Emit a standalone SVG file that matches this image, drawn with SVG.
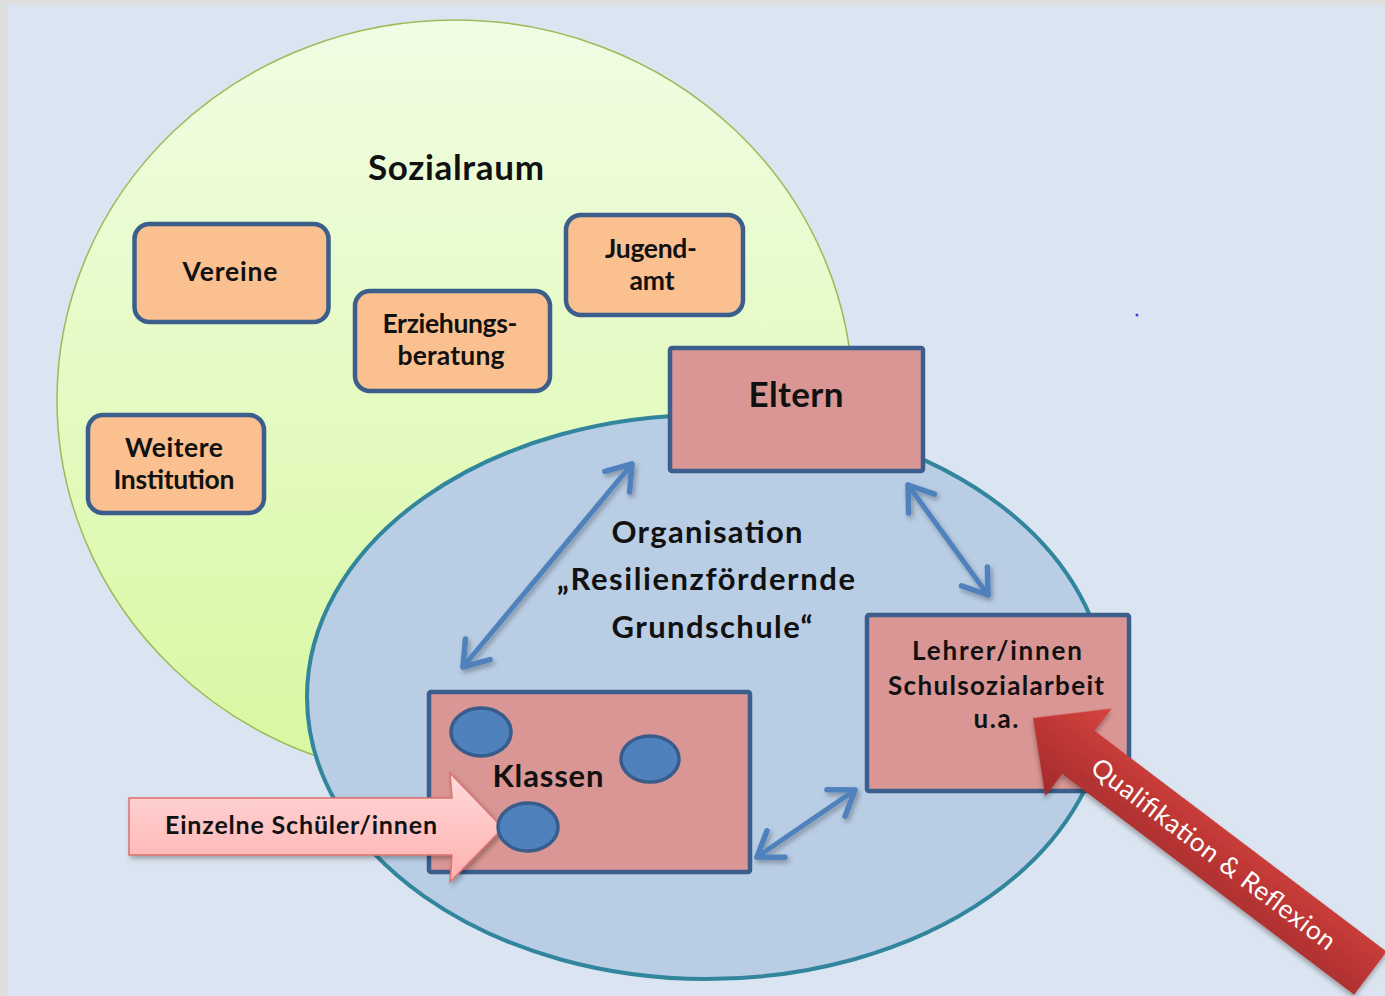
<svg xmlns="http://www.w3.org/2000/svg" width="1385" height="996" viewBox="0 0 1385 996">
<defs>
<linearGradient id="gGreen" x1="0" y1="0" x2="0" y2="1">
<stop offset="0" stop-color="#f1fde4"/>
<stop offset="1" stop-color="#d7f8a0"/>
</linearGradient>
<linearGradient id="gPink" x1="0" y1="0" x2="0" y2="1">
<stop offset="0" stop-color="#ffdada"/>
<stop offset="1" stop-color="#ffafaf"/>
</linearGradient>
<linearGradient id="gRed" x1="0" y1="0" x2="0" y2="1">
<stop offset="0" stop-color="#d6433f"/>
<stop offset="1" stop-color="#a22a2a"/>
</linearGradient>
<filter id="shadow" x="-20%" y="-20%" width="140%" height="140%">
<feDropShadow dx="2" dy="3" stdDeviation="2.5" flood-color="#000" flood-opacity="0.3"/>
</filter>
<marker id="chev" markerUnits="userSpaceOnUse" markerWidth="50" markerHeight="50" viewBox="-30 -25 50 50" refX="0" refY="0" orient="auto-start-reverse">
<path d="M-23,-16 L0,0 L-23,16" fill="none" stroke="#4f81bd" stroke-width="5.5" stroke-linecap="round" stroke-linejoin="round"/>
</marker>
<style>
.t{font-family:Lato,"Liberation Sans",sans-serif;font-weight:bold;fill:#111;text-anchor:middle}
.org{fill:#fac08f;stroke:#3b5e8c;stroke-width:4.5}
.red{fill:#d99694;stroke:#3b5e8c;stroke-width:4.5}
.stu{fill:#4f81bd;stroke:#385d8a;stroke-width:3.5}
.conn{fill:none;stroke:#4f81bd;stroke-width:5;stroke-linecap:round;marker-start:url(#chev);marker-end:url(#chev)}
</style>
</defs>
<rect x="0" y="0" width="1385" height="996" fill="#dedede"/>
<rect x="8" y="5" width="1377" height="991" fill="#dbe5f1"/>
<circle cx="1137" cy="315" r="1.5" fill="#3344dd"/>

<g id="sozialraum">
<ellipse cx="455" cy="400" rx="398" ry="380" fill="url(#gGreen)" stroke="#9bbb59" stroke-width="1.5"/>
<text class="t" x="456" y="180" font-size="35" textLength="176">Sozialraum</text>
</g>

<g id="vereine">
<rect class="org" x="134.5" y="224" width="194" height="98" rx="15"/>
<text class="t" x="230" y="281" font-size="26.5" textLength="95">Vereine</text>
</g>
<g id="erziehungsberatung">
<rect class="org" x="355" y="291" width="195" height="100" rx="15"/>
<text class="t" x="450" y="333" font-size="26.5" textLength="135">Erziehungs-</text>
<text class="t" x="451" y="365" font-size="26.5" textLength="107">beratung</text>
</g>
<g id="weitere">
<rect class="org" x="88" y="415" width="176" height="98" rx="15"/>
<text class="t" x="174" y="457" font-size="26.5" textLength="98">Weitere</text>
<text class="t" x="174" y="489" font-size="26.5" textLength="121">Institution</text>
</g>
<g id="jugendamt">
<rect class="org" x="566" y="215" width="177" height="100" rx="15"/>
<text class="t" x="651" y="258" font-size="26.5" textLength="92">Jugend-</text>
<text class="t" x="652" y="290" font-size="26.5" textLength="45">amt</text>
</g>

<g id="organisation">
<ellipse cx="707" cy="697" rx="400" ry="282" fill="#b9cde5" stroke="#31859c" stroke-width="4"/>
<text class="t" x="707" y="543" font-size="31" textLength="191">Organisation</text>
<text class="t" x="706" y="590" font-size="31" textLength="298">„Resilienzfördernde</text>
<text class="t" x="712" y="638" font-size="31" textLength="201">Grundschule“</text>
</g>

<g id="eltern">
<rect class="red" x="670" y="348" width="253" height="123" rx="2"/>
<text class="t" x="796" y="407" font-size="35" textLength="95">Eltern</text>
</g>

<g id="lehrer">
<rect class="red" x="867" y="615" width="262" height="176" rx="2"/>
<text class="t" x="997" y="660" font-size="26" textLength="170">Lehrer/innen</text>
<text class="t" x="996" y="695" font-size="26" textLength="216">Schulsozialarbeit</text>
<text class="t" x="996" y="728" font-size="26" textLength="45">u.a.</text>
</g>

<g id="klassen">
<rect class="red" x="429" y="692" width="321" height="180" rx="2"/>
<ellipse class="stu" cx="481" cy="732" rx="30" ry="24"/>
<ellipse class="stu" cx="650" cy="759" rx="29" ry="23"/>
<text class="t" x="548" y="787" font-size="31" textLength="111">Klassen</text>
</g>

<g id="connectors" filter="url(#shadow)">
<line class="conn" x1="632" y1="464" x2="463" y2="667"/>
<line class="conn" x1="908" y1="485" x2="988" y2="595"/>
<line class="conn" x1="855" y1="790" x2="757" y2="857"/>
</g>

<g id="einzelne">
<polygon points="129,798 452,798 450,773 503,828 450,882 452,855 129,855" fill="url(#gPink)" stroke="#d9726e" stroke-width="1.5" filter="url(#shadow)"/>
<text class="t" x="301" y="834" font-size="25" textLength="272">Einzelne Schüler/innen</text>
</g>
<g id="schueler">
<ellipse class="stu" cx="528" cy="827" rx="30" ry="24"/>
</g>

<g id="qualifikation" transform="translate(1033,718) rotate(37.1)">
<polygon points="0,0 57,-55 57,-27 423,-27 423,27 57,27 57,55" fill="url(#gRed)" filter="url(#shadow)"/>
<text x="226" y="8.5" font-family="Lato,'Liberation Sans',sans-serif" font-size="26" fill="#fff" text-anchor="middle" textLength="299">Qualifikation &amp; Reflexion</text>
</g>
</svg>
